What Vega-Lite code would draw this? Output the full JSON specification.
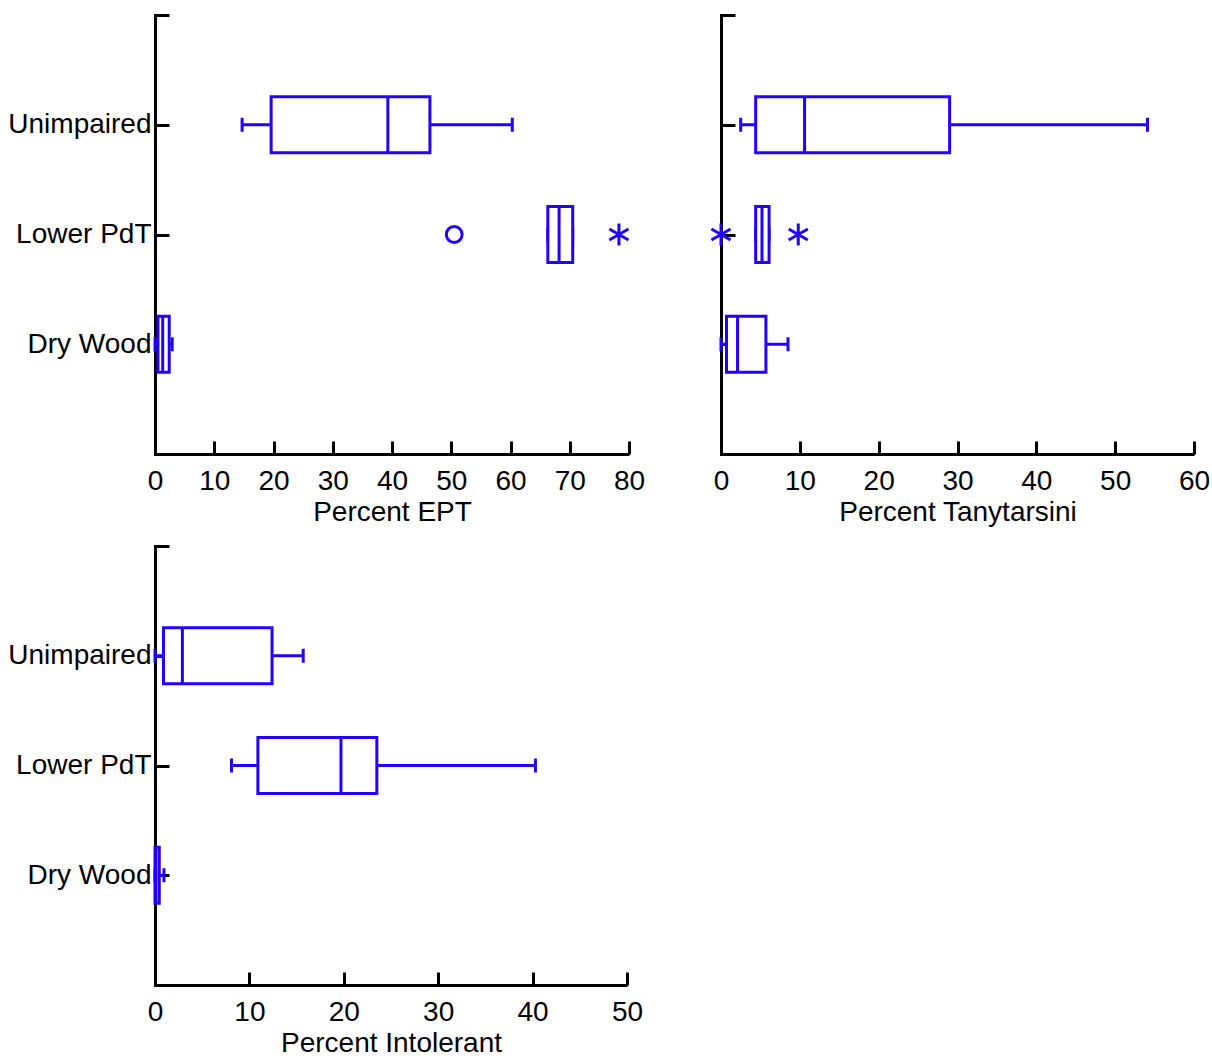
{
  "$schema": "https://vega.github.io/schema/vega-lite/v6.json",
  "background": "white",
  "padding": {"left": 7, "top": 1, "right": 0, "bottom": 0},
  "config": {
    "view": {"stroke": null},
    "font": "Liberation Sans",
    "axis": {"domainColor": "black", "domainWidth": 3, "tickColor": "black", "tickWidth": 3, "grid": false,
      "labelFont": "Liberation Sans", "labelFontSize": 28, "labelColor": "black",
      "titleFont": "Liberation Sans", "titleFontSize": 28, "titleFontWeight": "normal", "titleColor": "black"},
    "axisY": {"tickSize": -14, "labelPadding": 18, "domainCap": "square"},
    "axisX": {"tickSize": -13, "labelPadding": 26, "titlePadding": 3, "labelFlush": false},
    "tick": {"opacity": 1},
    "point": {"opacity": 1}
  },
  "datasets": {
    "boxes": [
      {"measure": "EPT", "group": "Unimpaired", "low": 14.7, "q1": 19.6, "median": 39.3, "q3": 46.4, "high": 60.3},
      {"measure": "EPT", "group": "Lower PdT", "low": 66.3, "q1": 66.3, "median": 68.2, "q3": 70.5, "high": 70.5},
      {"measure": "EPT", "group": "Dry Wood", "low": 0.0, "q1": 0.5, "median": 1.3, "q3": 2.4, "high": 2.9},
      {"measure": "Tany", "group": "Unimpaired", "low": 2.5, "q1": 4.4, "median": 10.6, "q3": 29.0, "high": 54.1},
      {"measure": "Tany", "group": "Lower PdT", "low": 4.4, "q1": 4.4, "median": 5.2, "q3": 6.1, "high": 6.1},
      {"measure": "Tany", "group": "Dry Wood", "low": 0.0, "q1": 0.7, "median": 2.1, "q3": 5.7, "high": 8.5},
      {"measure": "Intol", "group": "Unimpaired", "low": 0.0, "q1": 0.9, "median": 2.9, "q3": 12.4, "high": 15.7},
      {"measure": "Intol", "group": "Lower PdT", "low": 8.1, "q1": 10.9, "median": 19.7, "q3": 23.5, "high": 40.3},
      {"measure": "Intol", "group": "Dry Wood", "low": 0.0, "q1": 0.0, "median": 0.1, "q3": 0.45, "high": 0.95}
    ],
    "outliers": [
      {"measure": "EPT", "group": "Lower PdT", "value": 50.5, "kind": "far outside"},
      {"measure": "EPT", "group": "Lower PdT", "value": 78.3, "kind": "outside"},
      {"measure": "Tany", "group": "Lower PdT", "value": 0.0, "kind": "outside"},
      {"measure": "Tany", "group": "Lower PdT", "value": 9.8, "kind": "outside"}
    ]
  },
  "vconcat": [
    {
      "hconcat": [
        {
          "width": 474, "height": 439,
          "layer": [
            {"data": {"name": "boxes"}, "transform": [{"filter": "datum.measure === 'EPT'"}],
             "mark": {"type": "rule", "color": "#2200ff", "strokeWidth": 3},
             "encoding": {
               "y": {"field": "group", "type": "nominal", "title": null, "scale": {"type": "point", "domain": ["", "Unimpaired", "Lower PdT", "Dry Wood", " "], "padding": 0}},
               "x": {"field": "low", "type": "quantitative", "title": "Percent EPT", "scale": {"domain": [0, 80], "nice": false, "zero": true}, "axis": {"values": [0, 10, 20, 30, 40, 50, 60, 70, 80]}},
               "x2": {"field": "high"}}},
            {"data": {"name": "boxes"}, "transform": [{"filter": "datum.measure === 'EPT'"}],
             "mark": {"type": "tick", "color": "#2200ff", "size": 14, "thickness": 3, "orient": "vertical"},
             "encoding": {"y": {"field": "group", "type": "nominal"}, "x": {"field": "low", "type": "quantitative"}}},
            {"data": {"name": "boxes"}, "transform": [{"filter": "datum.measure === 'EPT'"}],
             "mark": {"type": "tick", "color": "#2200ff", "size": 14, "thickness": 3, "orient": "vertical"},
             "encoding": {"y": {"field": "group", "type": "nominal"}, "x": {"field": "high", "type": "quantitative"}}},
            {"data": {"name": "boxes"}, "transform": [{"filter": "datum.measure === 'EPT'"}],
             "mark": {"type": "bar", "fill": "white", "stroke": "#2200ff", "strokeWidth": 3, "size": 56, "orient": "horizontal"},
             "encoding": {"y": {"field": "group", "type": "nominal"}, "x": {"field": "q1", "type": "quantitative"}, "x2": {"field": "q3"}}},
            {"data": {"name": "boxes"}, "transform": [{"filter": "datum.measure === 'EPT'"}],
             "mark": {"type": "tick", "color": "#2200ff", "size": 56, "thickness": 3, "orient": "vertical"},
             "encoding": {"y": {"field": "group", "type": "nominal"}, "x": {"field": "median", "type": "quantitative"}}},
            {"data": {"name": "outliers"}, "transform": [{"filter": "datum.measure === 'EPT'"}],
             "mark": {"type": "point", "color": "#2200ff", "strokeWidth": 3, "filled": false},
             "encoding": {"y": {"field": "group", "type": "nominal"}, "x": {"field": "value", "type": "quantitative"},
               "shape": {"field": "kind", "type": "nominal", "legend": null, "scale": {"domain": ["far outside", "outside"], "range": ["circle", "M0,-1L0,1M-0.87,-0.5L0.87,0.5M-0.87,0.5L0.87,-0.5"]}},
               "size": {"field": "kind", "type": "nominal", "legend": null, "scale": {"domain": ["far outside", "outside"], "range": [250, 484]}}}}
          ]
        },
        {
          "width": 473, "height": 439,
          "layer": [
            {"data": {"name": "boxes"}, "transform": [{"filter": "datum.measure === 'Tany'"}],
             "mark": {"type": "rule", "color": "#2200ff", "strokeWidth": 3},
             "encoding": {
               "y": {"field": "group", "type": "nominal", "title": null, "scale": {"type": "point", "domain": ["", "Unimpaired", "Lower PdT", "Dry Wood", " "], "padding": 0}, "axis": {"labels": false}},
               "x": {"field": "low", "type": "quantitative", "title": "Percent Tanytarsini", "scale": {"domain": [0, 60], "nice": false}, "axis": {"values": [0, 10, 20, 30, 40, 50, 60]}},
               "x2": {"field": "high"}}},
            {"data": {"name": "boxes"}, "transform": [{"filter": "datum.measure === 'Tany'"}],
             "mark": {"type": "tick", "color": "#2200ff", "size": 14, "thickness": 3, "orient": "vertical"},
             "encoding": {"y": {"field": "group", "type": "nominal"}, "x": {"field": "low", "type": "quantitative"}}},
            {"data": {"name": "boxes"}, "transform": [{"filter": "datum.measure === 'Tany'"}],
             "mark": {"type": "tick", "color": "#2200ff", "size": 14, "thickness": 3, "orient": "vertical"},
             "encoding": {"y": {"field": "group", "type": "nominal"}, "x": {"field": "high", "type": "quantitative"}}},
            {"data": {"name": "boxes"}, "transform": [{"filter": "datum.measure === 'Tany'"}],
             "mark": {"type": "bar", "fill": "white", "stroke": "#2200ff", "strokeWidth": 3, "size": 56, "orient": "horizontal"},
             "encoding": {"y": {"field": "group", "type": "nominal"}, "x": {"field": "q1", "type": "quantitative"}, "x2": {"field": "q3"}}},
            {"data": {"name": "boxes"}, "transform": [{"filter": "datum.measure === 'Tany'"}],
             "mark": {"type": "tick", "color": "#2200ff", "size": 56, "thickness": 3, "orient": "vertical"},
             "encoding": {"y": {"field": "group", "type": "nominal"}, "x": {"field": "median", "type": "quantitative"}}},
            {"data": {"name": "outliers"}, "transform": [{"filter": "datum.measure === 'Tany'"}],
             "mark": {"type": "point", "color": "#2200ff", "strokeWidth": 3, "filled": false},
             "encoding": {"y": {"field": "group", "type": "nominal"}, "x": {"field": "value", "type": "quantitative"},
               "shape": {"field": "kind", "type": "nominal", "legend": null, "scale": {"domain": ["far outside", "outside"], "range": ["circle", "M0,-1L0,1M-0.87,-0.5L0.87,0.5M-0.87,0.5L0.87,-0.5"]}},
               "size": {"field": "kind", "type": "nominal", "legend": null, "scale": {"domain": ["far outside", "outside"], "range": [250, 484]}}}}
          ]
        }
      ],
      "spacing": 60
    },
    {
      "width": 472, "height": 439,
      "layer": [
        {"data": {"name": "boxes"}, "transform": [{"filter": "datum.measure === 'Intol'"}],
         "mark": {"type": "rule", "color": "#2200ff", "strokeWidth": 3},
         "encoding": {
           "y": {"field": "group", "type": "nominal", "title": null, "scale": {"type": "point", "domain": ["", "Unimpaired", "Lower PdT", "Dry Wood", " "], "padding": 0}},
           "x": {"field": "low", "type": "quantitative", "title": "Percent Intolerant", "scale": {"domain": [0, 50], "nice": false}, "axis": {"values": [0, 10, 20, 30, 40, 50]}},
           "x2": {"field": "high"}}},
        {"data": {"name": "boxes"}, "transform": [{"filter": "datum.measure === 'Intol'"}],
         "mark": {"type": "tick", "color": "#2200ff", "size": 14, "thickness": 3, "orient": "vertical"},
         "encoding": {"y": {"field": "group", "type": "nominal"}, "x": {"field": "low", "type": "quantitative"}}},
        {"data": {"name": "boxes"}, "transform": [{"filter": "datum.measure === 'Intol'"}],
         "mark": {"type": "tick", "color": "#2200ff", "size": 14, "thickness": 3, "orient": "vertical"},
         "encoding": {"y": {"field": "group", "type": "nominal"}, "x": {"field": "high", "type": "quantitative"}}},
        {"data": {"name": "boxes"}, "transform": [{"filter": "datum.measure === 'Intol'"}],
         "mark": {"type": "bar", "fill": "white", "stroke": "#2200ff", "strokeWidth": 3, "size": 56, "orient": "horizontal"},
         "encoding": {"y": {"field": "group", "type": "nominal"}, "x": {"field": "q1", "type": "quantitative"}, "x2": {"field": "q3"}}},
        {"data": {"name": "boxes"}, "transform": [{"filter": "datum.measure === 'Intol'"}],
         "mark": {"type": "tick", "color": "#2200ff", "size": 56, "thickness": 3, "orient": "vertical"},
         "encoding": {"y": {"field": "group", "type": "nominal"}, "x": {"field": "median", "type": "quantitative"}}}
      ]
    }
  ],
  "spacing": 6
}
